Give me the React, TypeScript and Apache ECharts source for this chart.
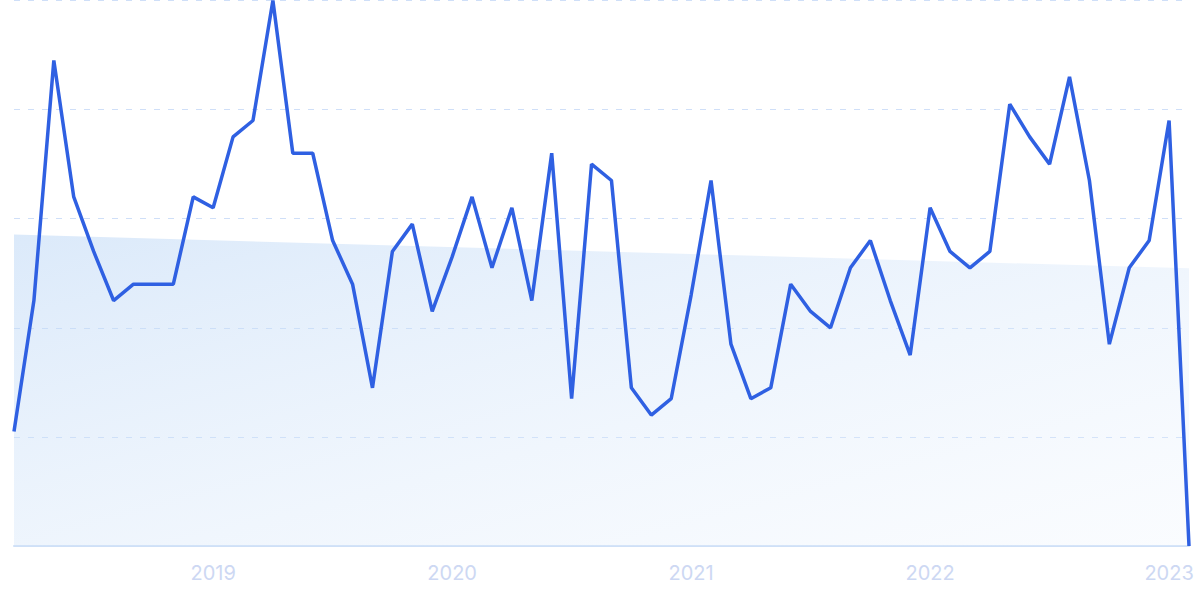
import React, { useEffect, useRef } from "react";
import * as echarts from "echarts";

const months: string[] = [];
for (let y = 2018; y <= 2023; y++) {
  for (let m = 1; m <= 12; m++) {
    if ((y === 2018 && m < 3) || (y === 2023 && m > 2)) continue;
    months.push(`${y}-${String(m).padStart(2, "0")}`);
  }
}

const values = [
  21, 45, 89, 64, 54, 45, 48, 48, 48, 64,
  62, 75, 78, 100, 72, 72, 56, 48, 29, 54,
  59, 43, 53, 64, 51, 62, 45, 72, 27, 70,
  67, 29, 24, 27, 46, 67, 37, 27, 29, 48,
  43, 40, 51, 56, 45, 35, 62, 54, 51, 54,
  81, 75, 70, 86, 67, 37, 51, 56, 78, 0,
];

const trendStart = 57.1;
const trendEnd = 50.9;

export default function App() {
  const ref = useRef<HTMLDivElement>(null);
  useEffect(() => {
    if (!ref.current) return;
    const chart = echarts.init(ref.current, undefined, { renderer: "svg" });
    chart.setOption({
      animation: false,
      grid: { left: 14, right: 11, top: 0.5, bottom: 53 },
      xAxis: {
        type: "category",
        data: months,
        boundaryGap: false,
        axisLine: { show: true, lineStyle: { color: "#cfe0f7", width: 2 } },
        axisTick: { show: false },
        splitLine: { show: false },
        axisLabel: {
          interval: (idx: number, val: string) => val.endsWith("-01"),
          formatter: (val: string) => val.slice(0, 4),
          color: "#cdd8f3",
          fontSize: 20,
          fontFamily: "Inter, 'Noto Sans', sans-serif",
          margin: 17,
        },
      },
      yAxis: {
        type: "value",
        min: 0,
        max: 100,
        interval: 20,
        axisLine: { show: false },
        axisTick: { show: false },
        axisLabel: { show: false },
        splitLine: {
          show: true,
          lineStyle: { color: "#cfdff8", type: [6, 8], width: 1 },
        },
      },
      series: [
        {
          type: "line",
          data: [
            [0, trendStart],
            [values.length - 1, trendEnd],
          ],
          symbol: "none",
          lineStyle: { width: 0, opacity: 0 },
          areaStyle: {
            color: new echarts.graphic.LinearGradient(0, 0, 1, 1, [
              { offset: 0, color: "rgba(190,216,246,0.55)" },
              { offset: 1, color: "rgba(235,243,253,0.25)" },
            ]),
            opacity: 1,
          },
          z: 1,
          silent: true,
        },
        {
          type: "line",
          data: values,
          symbol: "none",
          clip: false,
          lineStyle: { color: "#2f60e2", width: 3.5 },
          z: 3,
        },
      ],
    });
    return () => chart.dispose();
  }, []);
  return (
    <div
      ref={ref}
      style={{ position: "absolute", left: 0, top: 0, width: 1200, height: 599 }}
    />
  );
}
